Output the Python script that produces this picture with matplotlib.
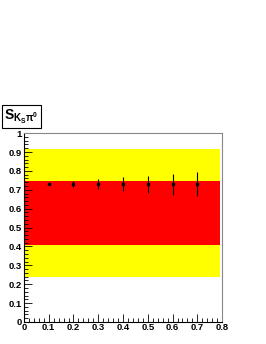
import matplotlib

matplotlib.use("Agg")
import matplotlib.pyplot as plt  # noqa: E402
from matplotlib.ticker import MultipleLocator  # noqa: E402

# band limits (yellow outer, red inner) and measured points
x_span = [0.0, 0.79]
yellow_band = [0.24, 0.915]
red_band = [0.405, 0.745]
x_pts = [0.1, 0.2, 0.3, 0.4, 0.5, 0.6, 0.7]
y_pts = [0.73, 0.73, 0.73, 0.73, 0.73, 0.73, 0.73]
y_err = [0.007, 0.015, 0.028, 0.036, 0.045, 0.055, 0.063]
x_ticks = [0, 0.1, 0.2, 0.3, 0.4, 0.5, 0.6, 0.7, 0.8]
x_tick_labels = ["0", "0.1", "0.2", "0.3", "0.4", "0.5", "0.6", "0.7", "0.8"]
y_ticks = [0, 0.1, 0.2, 0.3, 0.4, 0.5, 0.6, 0.7, 0.8, 0.9, 1]
y_tick_labels = ["0", "0.1", "0.2", "0.3", "0.4", "0.5", "0.6", "0.7", "0.8", "0.9", "1"]

plt.rcParams["font.family"] = ["Liberation Sans", "DejaVu Sans"]
plt.rcParams["font.weight"] = "bold"
plt.rcParams["mathtext.fontset"] = "custom"
plt.rcParams["mathtext.rm"] = "Liberation Sans:bold"
plt.rcParams["mathtext.it"] = "Liberation Sans:bold"
plt.rcParams["mathtext.bf"] = "Liberation Sans:bold"

fig = plt.figure(figsize=(2.66, 3.44), dpi=100)
ax = fig.add_axes([0.090, 0.064, 0.745, 0.549])

ax.fill_between(x_span, yellow_band[0], yellow_band[1], color="#ffff00", linewidth=0)
ax.fill_between(x_span, red_band[0], red_band[1], color="#ff0000", linewidth=0)
ax.errorbar(x_pts, y_pts, yerr=y_err, fmt="s", color="black", markersize=2,
            elinewidth=0.8, capsize=0)

ax.set_xlim(0, 0.8)
ax.set_ylim(0, 1)
ax.set_xticks(x_ticks)
ax.set_xticklabels(x_tick_labels)
ax.set_yticks(y_ticks)
ax.set_yticklabels(y_tick_labels)
ax.xaxis.set_minor_locator(MultipleLocator(0.02))
ax.yaxis.set_minor_locator(MultipleLocator(0.02))
ax.tick_params(axis="both", which="major", direction="in", length=6, width=0.6,
               labelsize=6.8, pad=1.5)
ax.tick_params(axis="both", which="minor", direction="in", length=3, width=0.6)
ax.tick_params(axis="x", pad=1)
for s in ("top", "right"):
    ax.spines[s].set_color("#888888")
for s in ("left", "bottom"):
    ax.spines[s].set_color("black")
for s in ax.spines.values():
    s.set_linewidth(0.8)

fig.text(0.015, 0.635, r"$S_{K_S\pi^0}$", fontsize=10, ha="left", va="bottom",
         bbox=dict(boxstyle="square,pad=0.15", facecolor="white", edgecolor="black",
                   linewidth=0.8))

fig.savefig("out.png", dpi=100)
